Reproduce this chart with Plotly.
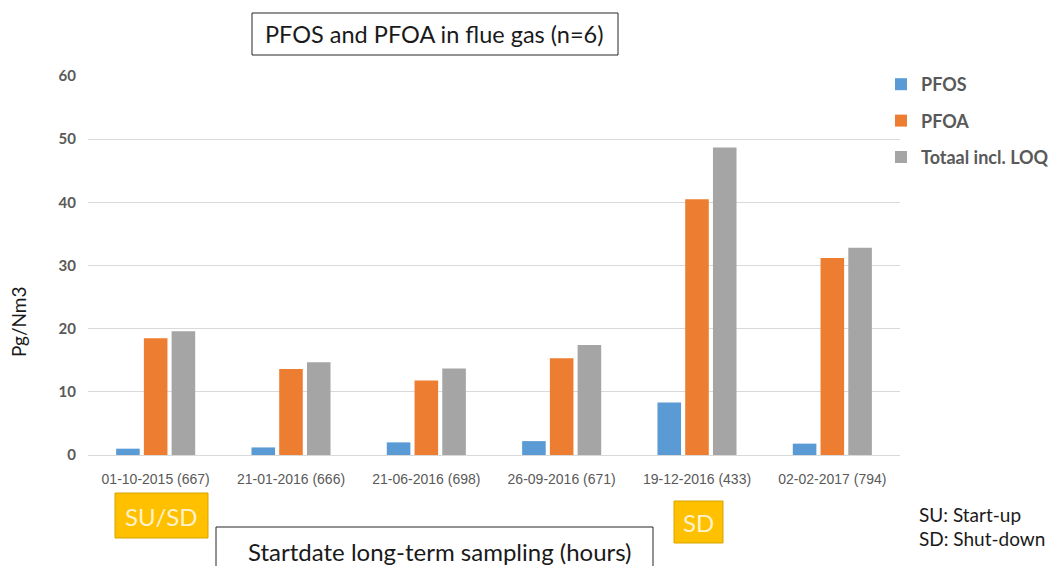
import plotly.graph_objects as go

categories = ["01-10-2015 (667)", "21-01-2016 (666)", "21-06-2016 (698)",
              "26-09-2016 (671)", "19-12-2016 (433)", "02-02-2017 (794)"]
pfos = [1.0, 1.2, 2.0, 2.2, 8.3, 1.8]
pfoa = [18.5, 13.6, 11.8, 15.3, 40.5, 31.2]
totaal = [19.6, 14.7, 13.7, 17.4, 48.7, 32.8]
y_ticks = [0, 10, 20, 30, 40, 50, 60]

series = [("PFOS", pfos, "#5B9BD5"), ("PFOA", pfoa, "#ED7D31"), ("Totaal incl. LOQ", totaal, "#A5A5A5")]

fig = go.Figure()
for i, (name, vals, col) in enumerate(series):
    fig.add_trace(go.Bar(x=categories, y=vals, name=name, marker=dict(color=col, line=dict(width=0)),
                         legendgroup=f"g{i}"))

# page body has an 8px margin; work in screen pixels and compensate
OFF = 8
W, H = 1064, 566
PL, PR, PT, PB = 88, 900, 76, 455  # plot area in screen pixels
L = PL - OFF
T = PT - OFF
R = W - (PR - OFF)
B = H - (PB - OFF)
pw, ph = PR - PL, PB - PT

def px(x):
    return (x - PL) / pw

def py(y):
    return (PB - y) / ph

fig.update_layout(
    width=W, height=H,
    margin=dict(l=L, r=R, t=T, b=B, autoexpand=False),
    paper_bgcolor="white", plot_bgcolor="white",
    barmode="group", bargap=0.385, bargroupgap=0.15,
    font=dict(family="Lato, Liberation Sans, sans-serif", color="#595959"),
    showlegend=True,
    legend=dict(x=px(881), y=py(66), xanchor="left", yanchor="top",
                font=dict(size=18, family="Lato", color="#595959", weight="bold"),
                tracegroupgap=10, traceorder="grouped", itemwidth=30,
                bgcolor="rgba(0,0,0,0)"),
    xaxis=dict(showgrid=False, showline=False, ticks="", zeroline=False,
               tickfont=dict(family="Liberation Sans, Arial", size=14, color="#595959"),
               ticklabelstandoff=14),
    yaxis=dict(range=[0, 60], tickvals=y_ticks, showgrid=True, gridcolor="#D9D9D9", gridwidth=1,
               zeroline=True, zerolinecolor="#D9D9D9", zerolinewidth=1, showline=False, ticks="",
               tickfont=dict(family="Lato", size=15, color="#595959", weight="bold"),
               ticklabelstandoff=11),
)

shapes = [
    dict(type="rect", xref="paper", yref="paper", x0=px(252), x1=px(618), y0=py(55), y1=py(13),
         line=dict(color="#262626", width=1), fillcolor="white"),
    dict(type="rect", xref="paper", yref="paper", x0=px(216), x1=px(653), y0=py(575), y1=py(527),
         line=dict(color="#262626", width=1), fillcolor="white"),
    dict(type="rect", xref="paper", yref="paper", x0=px(115), x1=px(208), y0=py(538), y1=py(493),
         line=dict(color="#D9A300", width=1), fillcolor="#FFC000"),
    dict(type="rect", xref="paper", yref="paper", x0=px(674), x1=px(723), y0=py(543), y1=py(501),
         line=dict(color="#D9A300", width=1), fillcolor="#FFC000"),
]
fig.update_layout(shapes=shapes)

ann = [
    dict(text="PFOS and PFOA in flue gas (n=6)", x=px(434), y=py(34), font=dict(size=23.5, color="#1a1a1a", family="Lato")),
    dict(text="Startdate long-term sampling (hours)", x=px(440), y=py(551), font=dict(size=24, color="#1a1a1a", family="Lato")),
    dict(text="SU/SD", x=px(161), y=py(516), font=dict(size=24, color="#FFF2CC", family="Lato")),
    dict(text="SD", x=px(698), y=py(522), font=dict(size=24, color="#FFF2CC", family="Lato")),
    dict(text="SU: Start-up", x=px(917), y=py(514), xanchor="left", font=dict(size=19, color="#1a1a1a", family="Lato")),
    dict(text="SD: Shut-down", x=px(917), y=py(538), xanchor="left", font=dict(size=19, color="#1a1a1a", family="Lato")),
    dict(text="Pg/Nm3", x=px(18), y=py(322), textangle=-90, font=dict(size=19, color="#1a1a1a", family="Lato")),
]
for a in ann:
    a.update(xref="paper", yref="paper", showarrow=False)
    a.setdefault("xanchor", "center")
    a.setdefault("yanchor", "middle")
fig.update_layout(annotations=ann)

fig.write_html("out.html")
